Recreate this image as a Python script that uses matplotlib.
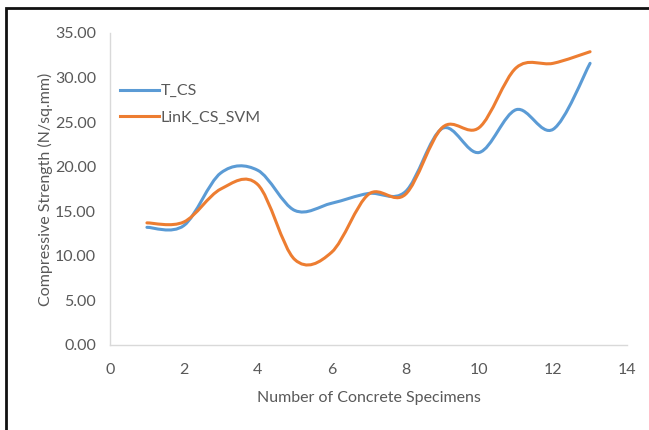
import numpy as np
import matplotlib
matplotlib.use("Agg")
import matplotlib.pyplot as plt
from matplotlib.path import Path
from matplotlib.patches import PathPatch, Rectangle
from matplotlib.lines import Line2D

# ---- data ----
specimens = [1, 2, 3, 4, 5, 6, 7, 8, 9, 10, 11, 12, 13]
t_cs = [13.2, 13.4, 19.3, 19.6, 15.1, 15.9, 17.0, 17.2, 24.3, 21.6, 26.4, 24.2, 31.6]
link_cs_svm = [13.7, 13.8, 17.5, 18.0, 9.6, 10.4, 16.9, 16.9, 24.4, 24.4, 31.1, 31.6, 32.9]
series_names = ["T_CS", "LinK_CS_SVM"]
colors = ["#5B9BD5", "#ED7D31"]
x_ticks = [0, 2, 4, 6, 8, 10, 12, 14]
y_ticks = [0, 5, 10, 15, 20, 25, 30, 35]

plt.rcParams["font.family"] = ["Lato", "DejaVu Sans"]
TXT = "#595959"


def smooth_path(x, y):
    """Excel-style smoothed line: cubic Bezier (Catmull-Rom control points)."""
    pts = np.column_stack([np.asarray(x, float), np.asarray(y, float)])
    n = len(pts)
    verts = [pts[0]]
    codes = [Path.MOVETO]
    for i in range(n - 1):
        p0 = pts[max(i - 1, 0)]
        p1 = pts[i]
        p2 = pts[i + 1]
        p3 = pts[min(i + 2, n - 1)]
        c1 = p1 + (p2 - p0) / 6.0
        c2 = p2 - (p3 - p1) / 6.0
        verts += [c1, c2, p2]
        codes += [Path.CURVE4] * 3
    return Path(verts, codes)


fig = plt.figure(figsize=(6.49, 4.30), dpi=100)
ax = fig.add_axes([110 / 649, 1 - 345 / 430, (627 - 110) / 649, (345 - 33) / 430])

handles = []
for ys, name, c in zip([t_cs, link_cs_svm], series_names, colors):
    patch = PathPatch(smooth_path(specimens, ys), facecolor="none", edgecolor=c,
                      lw=2.2, capstyle="round", joinstyle="round")
    ax.add_patch(patch)
    handles.append(Line2D([], [], color=c, lw=2.2, label=name))

ax.set_xlim(0, 14)
ax.set_ylim(0, 35)
ax.set_xticks(x_ticks)
ax.set_yticks(y_ticks)
ax.set_yticklabels([f"{v:.2f}" for v in y_ticks])
ax.tick_params(length=0, labelsize=11.5, labelcolor=TXT)
ax.tick_params(axis="x", pad=13)
ax.tick_params(axis="y", pad=10)

for s in ["top", "right"]:
    ax.spines[s].set_visible(False)
for s in ["left", "bottom"]:
    ax.spines[s].set_color("#D9D9D9")
    ax.spines[s].set_linewidth(1.0)

ax.set_xlabel("Number of Concrete Specimens", fontsize=11.5, color=TXT, labelpad=10)
ax.set_ylabel("Compressive Strength (N/sq.mm)", fontsize=11.5, color=TXT, labelpad=1.5)

leg = ax.legend(handles=handles, loc="upper left", bbox_to_anchor=(0.02, 0.836),
                frameon=False, fontsize=11.5, handlelength=2.4, handletextpad=0.1,
                labelspacing=0.75, borderpad=0, borderaxespad=0)
for t in leg.get_texts():
    t.set_color(TXT)

# outer frame (left and top edges visible)
fig.patches.append(Rectangle((6 / 649, -0.05), 1.2, 1 - 8 / 430 + 0.05,
                             transform=fig.transFigure, fill=False,
                             edgecolor="#111111", lw=2.0, zorder=10))

fig.savefig("out.png", dpi=100)
